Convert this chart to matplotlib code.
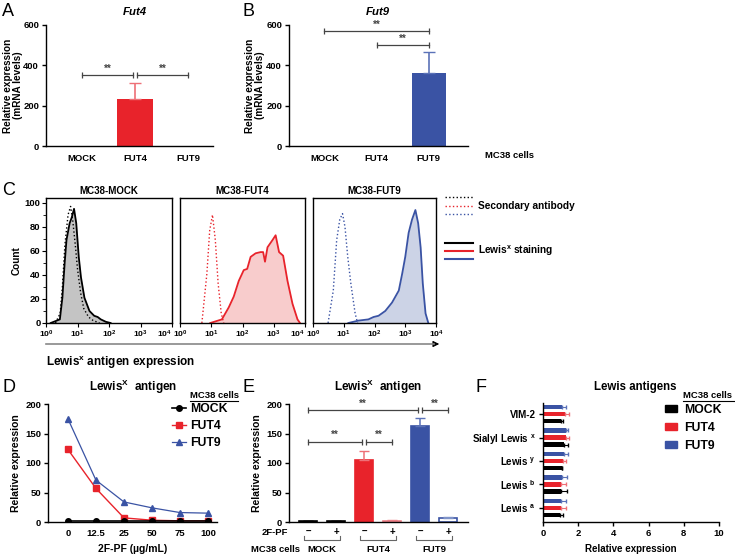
import numpy as np
import matplotlib
matplotlib.use('Agg')
import matplotlib.pyplot as plt
from matplotlib.lines import Line2D
from matplotlib.patches import Patch

plt.rcParams['font.family'] = ['Liberation Sans', 'DejaVu Sans']
plt.rcParams['font.weight'] = 'bold'
plt.rcParams['axes.labelweight'] = 'bold'
plt.rcParams['axes.titleweight'] = 'bold'
plt.rcParams['mathtext.fontset'] = 'custom'
plt.rcParams['mathtext.rm'] = 'Liberation Sans:bold'
plt.rcParams['mathtext.bf'] = 'Liberation Sans:bold'
plt.rcParams['mathtext.it'] = 'Liberation Sans:bold:italic'
plt.rcParams['mathtext.default'] = 'bf'
plt.rcParams['axes.linewidth'] = 1.0
plt.rcParams['xtick.labelsize'] = 6.8
plt.rcParams['ytick.labelsize'] = 6.8

RED = '#e8232b'
BLUE = '#3a53a4'
GREY = '#444444'

# ---- data ----
groups = ['MOCK', 'FUT4', 'FUT9']
fut4_mrna = [1, 233, 1]
fut4_mrna_err = [0, 80, 0]
fut9_mrna = [1, 1, 362]
fut9_mrna_err = [0, 0, 106]

# flow histograms: (log10 intensity, count)
mock_sec_x = [0.3, 0.45, 0.52, 0.6, 0.7, 0.78, 0.85, 0.93, 1.0, 1.1, 1.2, 1.35, 1.5, 1.7]
mock_sec_y = [0, 8, 30, 65, 90, 97, 85, 65, 45, 25, 12, 5, 2, 0]
mock_lex_x = [0.15, 0.44, 0.52, 0.59, 0.65, 0.75, 0.82, 0.89, 0.96, 1.04, 1.11, 1.22, 1.38, 1.53, 1.64, 1.74, 1.9, 2.05]
mock_lex_y = [0, 3, 21, 49, 69, 83, 88, 95, 83, 55, 38, 21, 10, 6, 5, 3, 1, 0]
fut4_sec_x = [0.7, 0.86, 0.95, 1.04, 1.13, 1.22, 1.32, 1.4]
fut4_sec_y = [0, 41, 77, 90, 69, 33, 8, 0]
fut4_lex_x = [0.97, 1.34, 1.56, 1.72, 1.88, 2.04, 2.15, 2.26, 2.42, 2.58, 2.66, 2.72, 2.8, 2.96, 3.06, 3.17, 3.3, 3.44, 3.6, 3.76, 3.84]
fut4_lex_y = [0, 3, 13, 22, 35, 44, 45, 55, 58, 59, 59, 51, 63, 69, 73, 59, 56, 35, 16, 3, 0]
fut9_sec_x = [0.49, 0.66, 0.77, 0.87, 0.96, 1.04, 1.13, 1.23, 1.37, 1.45]
fut9_sec_y = [0, 27, 69, 86, 91, 80, 55, 33, 8, 0]
fut9_lex_x = [1.15, 1.48, 1.8, 1.97, 2.13, 2.35, 2.57, 2.79, 2.9, 3.0, 3.11, 3.22, 3.33, 3.42, 3.5, 3.57, 3.66, 3.75]
fut9_lex_y = [0, 2, 3, 5, 6, 10, 17, 27, 41, 55, 75, 86, 94, 83, 63, 33, 8, 0]

doses = ['0', '12.5', '25', '50', '75', '100']
dose_mock = [1, 1, 1, 1, 1, 1]
dose_fut4 = [123, 57, 7, 3, 2, 2]
dose_fut9 = [175, 71, 34, 24, 16, 15]

treat = ['–', '+', '–', '+', '–', '+']
lex_vals = [1, 1, 105, 2, 162, 6]
lex_err = [0.5, 0.3, 15, 1, 14, 2]

lewis_labels = ['Lewis $^{a}$', 'Lewis $^{b}$', 'Lewis $^{y}$', 'Sialyl Lewis $^{x}$', 'VIM-2']
lw_mock = [0.95, 1.05, 1.1, 1.2, 1.0]
lw_mock_err = [0.2, 0.3, 0.0, 0.2, 0.15]
lw_fut4 = [1.05, 1.0, 1.15, 1.3, 1.25]
lw_fut4_err = [0.25, 0.3, 0.15, 0.2, 0.25]
lw_fut9 = [1.0, 1.1, 1.2, 1.3, 1.1]
lw_fut9_err = [0.3, 0.25, 0.2, 0.1, 0.2]

W, H = 735, 555
fig = plt.figure(figsize=(W / 100, H / 100), dpi=100)


def add_ax(l, t, r, b):
    return fig.add_axes([l / W, 1 - b / H, (r - l) / W, (b - t) / H])


def ftext(x, y, s, **kw):
    fig.text(x / W, 1 - y / H, s, **kw)


def fline(x1, x2, y1, y2, **kw):
    fig.add_artist(Line2D([x1 / W, x2 / W], [1 - y1 / H, 1 - y2 / H], transform=fig.transFigure, **kw))


def sig(ax, x1, x2, y, txt='**', dy=0):
    ax.plot([x1, x2], [y, y], color=GREY, lw=0.9, marker='|', ms=4, mew=0.9, clip_on=False)
    ax.text((x1 + x2) / 2, y + dy, txt, ha='center', va='bottom', fontsize=7, color=GREY)


def clean(ax):
    ax.spines['top'].set_visible(False)
    ax.spines['right'].set_visible(False)
    ax.tick_params(direction='out', length=3, width=1, pad=2)


# ---- A ----
axA = add_ax(46, 25, 213, 146)
x = np.arange(3)
axA.bar(x, fut4_mrna, width=0.68, color=RED)
axA.errorbar(x[1], fut4_mrna[1], yerr=[[0], [fut4_mrna_err[1]]], color='#ee7077', capsize=4, lw=1.2)
axA.set_xlim(-0.68, 2.47)
axA.set_ylim(0, 600)
axA.set_yticks([0, 200, 400, 600])
axA.set_xticks(x, groups)
clean(axA)
axA.tick_params(axis='x', length=0, pad=6)
axA.set_ylabel('Relative expression\n(mRNA levels)', fontsize=7.2, linespacing=1.05)
axA.yaxis.set_label_coords(-23 / 167, 0.5)
sig(axA, 0, 0.96, 350, dy=8)
sig(axA, 1.04, 2, 350, dy=8)
ftext(135, 12, 'Fut4', ha='center', va='center', fontsize=8.2, style='italic')
ftext(2, 12, 'A', ha='left', va='center', fontsize=13, weight='normal')

# ---- B ----
axB = add_ax(289, 25, 468, 146)
axB.bar(x, fut9_mrna, width=0.66, color=BLUE)
axB.errorbar(x[2], fut9_mrna[2], yerr=[[0], [fut9_mrna_err[2]]], color='#5b72b8', capsize=4, lw=1.2)
axB.set_xlim(-0.68, 2.75)
axB.set_ylim(0, 600)
axB.set_yticks([0, 200, 400, 600])
axB.set_xticks(x, groups)
clean(axB)
axB.tick_params(axis='x', length=0, pad=6)
axB.set_ylabel('Relative expression\n(mRNA levels)', fontsize=7.2, linespacing=1.05)
axB.yaxis.set_label_coords(-24 / 179, 0.5)
sig(axB, 0, 2, 568, dy=6)
sig(axB, 1, 2, 500, dy=6)
ftext(378, 12, 'Fut9', ha='center', va='center', fontsize=8.2, style='italic')
ftext(242, 12, 'B', ha='left', va='center', fontsize=13, weight='normal')
ftext(485, 155, 'MC38 cells', ha='left', va='center', fontsize=6.8)

# ---- C ----
hist_sets = [
    ('MC38-MOCK', mock_sec_x, mock_sec_y, mock_lex_x, mock_lex_y, 'black', '#c4c4c4', (46, 172)),
    ('MC38-FUT4', fut4_sec_x, fut4_sec_y, fut4_lex_x, fut4_lex_y, RED, '#f8cccc', (180, 305)),
    ('MC38-FUT9', fut9_sec_x, fut9_sec_y, fut9_lex_x, fut9_lex_y, BLUE, '#ccd3e6', (313, 436)),
]
for i, (title, sx, sy, lx, ly, col, fill, (l, r)) in enumerate(hist_sets):
    ax = add_ax(l, 198, r, 323)
    lx10 = 10 ** np.array(lx)
    sx10 = 10 ** np.array(sx)
    ax.fill_between(lx10, ly, color=fill, lw=0)
    ax.plot(lx10, ly, color=col, lw=1.3)
    ax.plot(sx10, sy, color=col, lw=1.0, ls=':')
    ax.set_xscale('log')
    ax.set_xlim(1, 1e4)
    ax.set_ylim(0, 104)
    ax.set_xticks([1, 10, 100, 1000, 10000], ['$10^{0}$', '$10^{1}$', '$10^{2}$', '$10^{3}$', '$10^{4}$'])
    ax.tick_params(axis='x', which='major', length=3, pad=1, labelsize=6.1)
    ax.tick_params(axis='x', which='minor', length=2)
    if i < 2:
        ax.get_xticklabels()[-1].set_ha('right')
    ax.set_title(title, fontsize=7, pad=3)
    if i == 0:
        ax.set_yticks([0, 20, 40, 60, 80, 100])
        ax.set_yticks(np.arange(10, 100, 20), minor=True)
        ax.tick_params(axis='y', which='major', length=3, pad=1)
        ax.tick_params(axis='y', which='minor', length=2)
        ax.set_ylabel('Count', fontsize=7.2, labelpad=2)
    else:
        ax.set_yticks([])
ftext(2, 190, 'C', ha='left', va='center', fontsize=13, weight='normal')
fline(46, 434, 344, 344, color='#888888', lw=1.2)
fig.add_artist(matplotlib.patches.FancyArrowPatch((430 / W, 1 - 344 / H), (442 / W, 1 - 344 / H),
                                                 transform=fig.transFigure, arrowstyle='-|>',
                                                 mutation_scale=9, color='black', lw=0.8))
ftext(46, 363, 'Lewis$^{x}$ antigen expression', ha='left', va='center', fontsize=8.5)
for yy, c in zip([197, 206, 214], ['black', RED, BLUE]):
    fline(445, 473, yy, yy, color=c, lw=1.0, ls=':')
for yy, c in zip([243, 251, 259], ['black', RED, BLUE]):
    fline(445, 473, yy, yy, color=c, lw=1.5)
ftext(478, 206, 'Secondary antibody', ha='left', va='center', fontsize=7.3)
ftext(478, 251, 'Lewis$^{x}$ staining', ha='left', va='center', fontsize=7.3)

# ---- D ----
axD = add_ax(48, 404, 217, 522)
xd = np.arange(len(doses))
axD.plot(xd, dose_mock, color='black', marker='o', ms=4, lw=1.2, label='MOCK', zorder=3)
axD.plot(xd, dose_fut4, color=RED, marker='s', ms=4, lw=1.0, label='FUT4')
axD.plot(xd, dose_fut9, color=BLUE, marker='^', ms=4, lw=0.9, label='FUT9')
axD.set_xlim(-0.71, 5.32)
axD.set_ylim(0, 200)
axD.set_yticks([0, 50, 100, 150, 200])
axD.set_xticks(xd, doses)
clean(axD)
axD.tick_params(axis='x', length=0, pad=5)
axD.set_xlabel('2F-PF (µg/mL)', fontsize=7.5, labelpad=4)
axD.set_ylabel('Relative expression', fontsize=7.5, labelpad=3)
axD.legend(loc='upper left', bbox_to_anchor=(172 / W, 1 - 403 / H), bbox_transform=fig.transFigure,
           frameon=False, fontsize=8.8, handlelength=1.15, handletextpad=0.35, labelspacing=0.42,
           borderaxespad=0, borderpad=0)
ftext(190, 395, 'MC38 cells', ha='left', va='center', fontsize=6.8)
fline(190, 238, 401, 401, color='black', lw=0.8)
ftext(133, 387, 'Lewis$^{X}$  antigen', ha='center', va='center', fontsize=8.5)
ftext(2, 387, 'D', ha='left', va='center', fontsize=13, weight='normal')

# ---- E ----
axE = add_ax(289, 404, 468, 522)
xe = np.arange(6)
e_colors = ['black', 'white', RED, 'white', BLUE, 'white']
e_edges = ['black', 'black', RED, '#ee8088', BLUE, BLUE]
e_errc = ['black', 'black', '#ee7077', '#ee8088', '#5b72b8', '#7f93c8']
axE.bar(xe, lex_vals, width=0.64, color=e_colors, edgecolor=e_edges, lw=1.2)
for xi, v, e, c in zip(xe, lex_vals, lex_err, e_errc):
    axE.errorbar(xi, v, yerr=[[0], [e]], color=c, capsize=3.5, lw=1.1)
axE.set_xlim(-0.68, 5.71)
axE.set_ylim(0, 200)
axE.set_yticks([0, 50, 100, 150, 200])
axE.set_xticks([])
axE.set_ylabel('Relative expression', fontsize=7.5, labelpad=3)
clean(axE)
sig(axE, 0, 3.93, 190, dy=2)
sig(axE, 4.07, 5, 190, dy=2)
sig(axE, 0, 1.93, 135, dy=4)
sig(axE, 2.07, 3, 135, dy=4)
tr = axE.get_xaxis_transform()
for xi, t in zip(xe, treat):
    axE.text(xi, -0.085, t, transform=tr, ha='center', va='center', fontsize=7)
axE.text(-1.2, -0.085, '2F-PF', transform=tr, ha='center', va='center', fontsize=6.8)
for k, g in enumerate(groups):
    x0, x1 = 2 * k - 0.15, 2 * k + 1.15
    axE.plot([x0, x0, x1, x1], [-0.12, -0.15, -0.15, -0.12], transform=tr, color='#666666', lw=0.8, clip_on=False)
    axE.text(2 * k + 0.5, -0.235, g, transform=tr, ha='center', va='center', fontsize=6.8)
axE.text(-0.3, -0.235, 'MC38 cells', transform=tr, ha='right', va='center', fontsize=6.8)
ftext(378, 387, 'Lewis$^{X}$  antigen', ha='center', va='center', fontsize=8.5)
ftext(242, 387, 'E', ha='left', va='center', fontsize=13, weight='normal')

# ---- F ----
axF = add_ax(543, 403, 719, 522)
yf = np.arange(len(lewis_labels))
bh = 0.2
off = 0.3
axF.barh(yf - off, lw_mock, height=bh, color='black', xerr=[np.zeros(5), lw_mock_err],
         error_kw=dict(ecolor='black', capsize=1.5, lw=0.8))
axF.barh(yf, lw_fut4, height=bh, color=RED, xerr=[np.zeros(5), lw_fut4_err],
         error_kw=dict(ecolor='#ee7077', capsize=1.5, lw=0.8))
axF.barh(yf + off, lw_fut9, height=bh, color=BLUE, xerr=[np.zeros(5), lw_fut9_err],
         error_kw=dict(ecolor='#5b72b8', capsize=1.5, lw=0.8))
axF.set_xlim(0, 10)
axF.set_ylim(-0.6, 4.47)
axF.set_xticks([0, 2, 4, 6, 8, 10])
axF.set_yticks(yf, lewis_labels)
clean(axF)
axF.tick_params(axis='y', labelsize=7)
axF.set_xlabel('Relative expression', fontsize=7, labelpad=4)
handles = [Patch(color='black'), Patch(color=RED), Patch(color=BLUE)]
axF.legend(handles, groups, loc='upper left', bbox_to_anchor=(665 / W, 1 - 404 / H), bbox_transform=fig.transFigure,
           frameon=False, fontsize=8.8, handlelength=1.0, handleheight=0.5, handletextpad=0.55,
           labelspacing=0.5, borderaxespad=0, borderpad=0)
ftext(683, 395, 'MC38 cells', ha='left', va='center', fontsize=6.8)
fline(683, 735, 401, 401, color='black', lw=0.8)
ftext(635, 387, 'Lewis antigens', ha='center', va='center', fontsize=8.3)
ftext(475, 387, 'F', ha='left', va='center', fontsize=13, weight='normal')

fig.savefig('out.png', dpi=100)
